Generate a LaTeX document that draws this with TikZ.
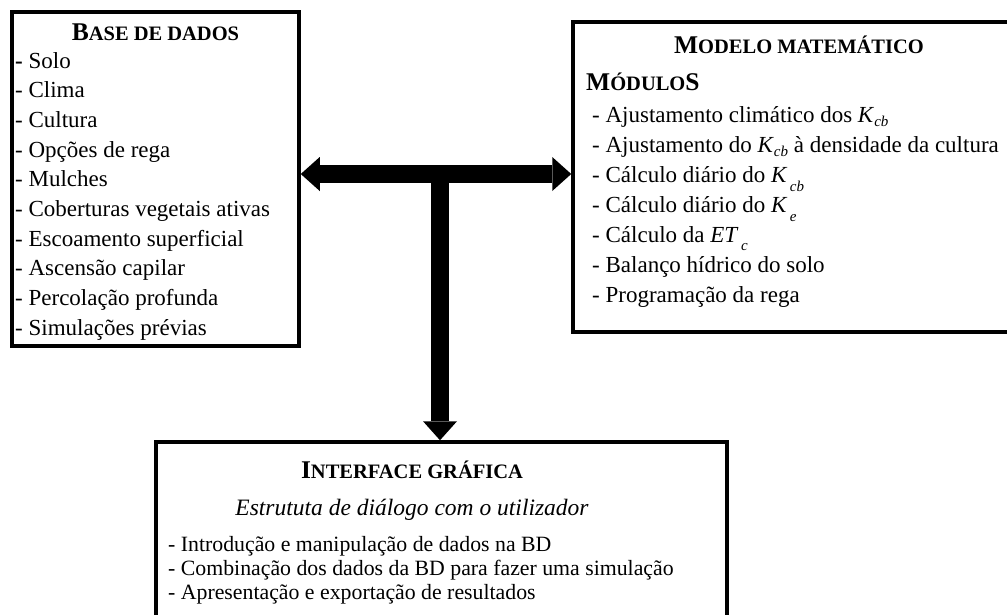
\documentclass[tikz,border=0pt]{standalone}
\usepackage{fontspec}
\setmainfont{Liberation Serif}
\usepackage{tikz}
\usetikzlibrary{arrows.meta}

\tikzset{
	box/.style={draw, line width=3.5pt, inner sep=0pt},
	item/.style={anchor=base west, inner sep=0pt, font=\fontsize{23}{23}\selectfont},
	smallitem/.style={item, font=\fontsize{21.8}{22}\selectfont},
	heading/.style={anchor=base, inner sep=0pt, font=\bfseries},
	bigarrow/.style={line width=18pt, >={Triangle[width=34pt, length=19pt, line width=0pt]}}
}

\newcommand{\capsTitle}[2]{{\fontsize{25.5}{25}\selectfont #1}{\fontsize{20.5}{21}\selectfont #2}}
\newcommand{\Ksub}[3]{\textit{#1}\raisebox{#3}{\fontsize{15}{15}\selectfont\textit{#2}}}

\begin{document}
\begin{tikzpicture}[x=1pt, y=-1pt]
			\def\stepBD{29.7};
			\def\stepMM{30};
			\def\stepGI{24};

			\useasboundingbox (0,0) rectangle (1007,614);

			\begin{scope}
				\node[box, minimum width=287pt, minimum height=334pt] (bd) at (155.5,179) {};
				\node[box, minimum width=457pt, minimum height=310pt] (mm) at (801.5,177) {};
				\node[box, minimum width=571pt, minimum height=208pt] (gi) at (441.5,546) {};
			\end{scope}

			% base de dados
			\begin{scope}
				\node[heading] (bdTitle) at (155.5,40) {\capsTitle{B}{ASE DE DADOS}};
				\node[item] (bdSolo) at (15,68) {\textbf{-} Solo};
				\node[item] (bdClima) at (15,68+\stepBD) {- Clima};
				\node[item] (bdCultura) at (15,68+2*\stepBD) {- Cultura};
				\node[item] (bdRega) at (15,68+3*\stepBD) {- Opções de rega};
				\node[item] (bdMulches) at (15,68+4*\stepBD) {- Mulches};
				\node[item] (bdCobert) at (15,68+5*\stepBD) {- Coberturas vegetais ativas};
				\node[item] (bdEscoam) at (15,68+6*\stepBD) {- Escoamento superficial};
				\node[item] (bdAscens) at (15,68+7*\stepBD) {- Ascensão capilar};
				\node[item] (bdPercol) at (15,68+8*\stepBD) {- Percolação profunda};
				\node[item] (bdSimul) at (15,68+9*\stepBD) {- Simulações prévias};
			\end{scope}

			% modelo matematico
			\begin{scope}
				\node[heading] (mmTitle) at (799,53) {\capsTitle{M}{ODELO MATEMÁTICO}};
				\node[heading, anchor=base west] (mmModulos) at (586,90) {\capsTitle{M}{ÓDULO}\fontsize{25.5}{25}\selectfont S};
				\node[item] (mmAjClima) at (592,122) {- Ajustamento climático dos \Ksub{K}{cb}{-4pt}};
				\node[item] (mmAjDens) at (592,122+\stepMM) {- Ajustamento do \Ksub{K}{cb}{-4pt} à densidade da cultura};
				\node[item] (mmKcb) at (592,122+2*\stepMM) {- Cálculo diário do \Ksub{K}{\,cb}{-9pt}};
				\node[item] (mmKe) at (592,122+3*\stepMM) {- Cálculo diário do \Ksub{K}{\,e}{-9pt}};
				\node[item] (mmETc) at (592,122+4*\stepMM) {- Cálculo da \Ksub{ET}{\,c}{-8pt}};
				\node[item] (mmBalanco) at (592,122+5*\stepMM) {- Balanço hídrico do solo};
				\node[item] (mmProg) at (592,122+6*\stepMM) {- Programação da rega};
			\end{scope}

			% interface grafica
			\begin{scope}
				\node[heading] (giTitle) at (412,478) {\capsTitle{I}{NTERFACE GRÁFICA}};
				\node[item, anchor=base, font=\fontsize{23.5}{23}\selectfont\itshape] (giSub) at (412,515) {Estrututa de diálogo com o utilizador};
				\node[smallitem] (giIntro) at (168,551) {- Introdução e manipulação de dados na BD};
				\node[smallitem] (giComb) at (168,551+\stepGI) {- Combinação dos dados da BD para fazer uma simulação};
				\node[smallitem] (giApres) at (168,551+2*\stepGI) {- Apresentação e exportação de resultados};
			\end{scope}

			\coordinate (hub) at (440,174);

			\begin{scope}[bigarrow]
				\draw[<->] (hub -| bd.east) -- (hub -| mm.west);
				\draw[->] (hub) -- (hub |- gi.north);
			\end{scope}
\end{tikzpicture}
\end{document}
